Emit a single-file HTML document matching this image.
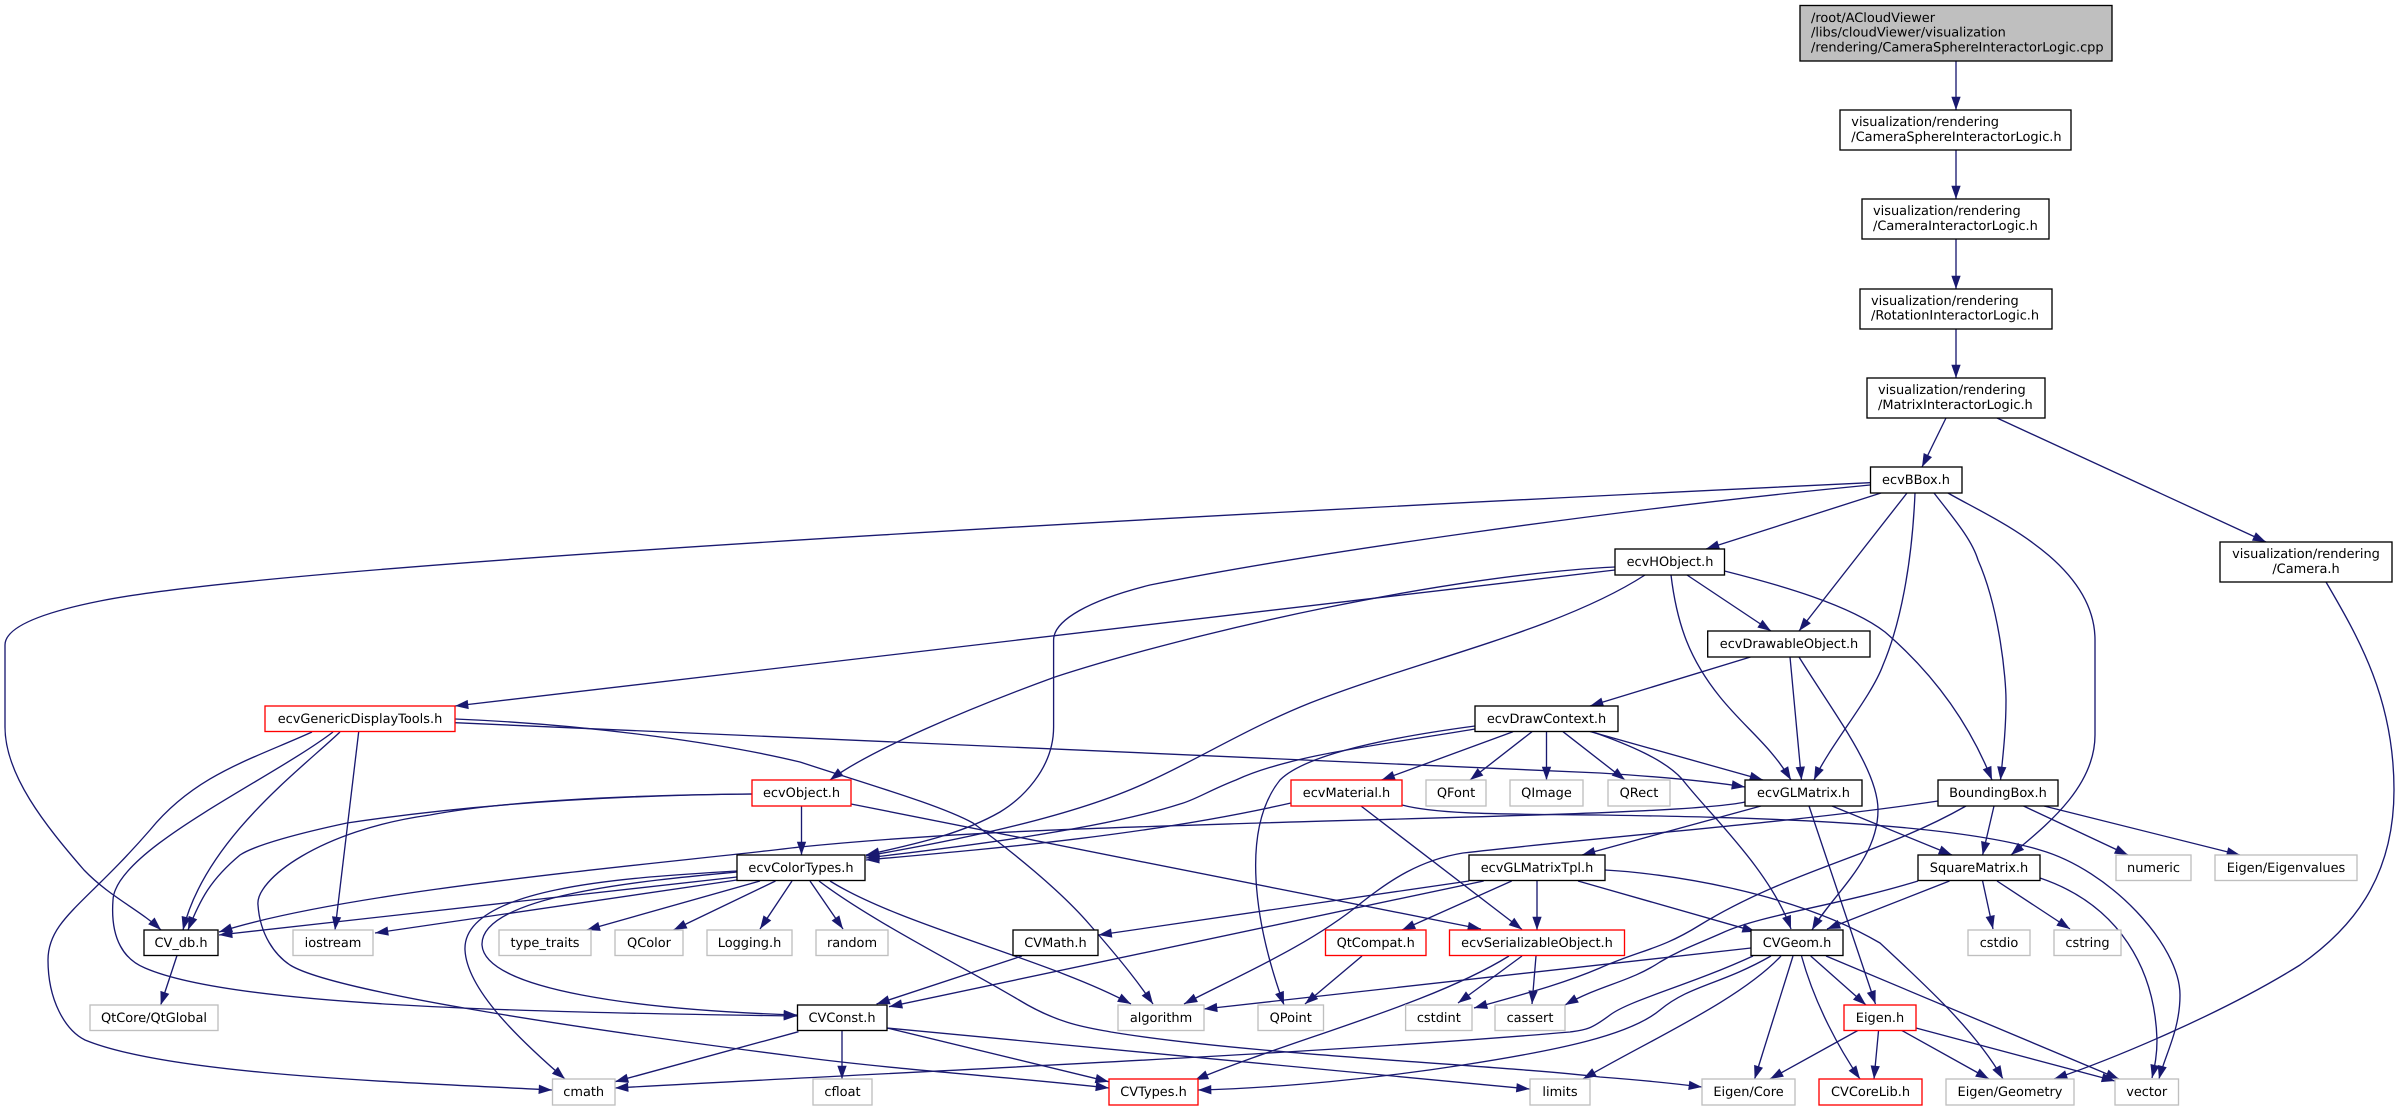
<!DOCTYPE html>
<html><head><meta charset="utf-8"><title>Include dependency graph</title>
<style>
html,body{margin:0;padding:0;background:#fff}
svg{display:block}
text{font-family:"DejaVu Sans",sans-serif;font-size:12.93px;fill:#000;text-rendering:geometricPrecision}
.m text,g.m{text-anchor:middle}
</style></head><body>
<svg width="2396" height="1111" viewBox="0 0 2396 1111" xmlns="http://www.w3.org/2000/svg">
<defs><marker id="a" markerUnits="userSpaceOnUse" markerWidth="14" markerHeight="10" refX="13.3" refY="4.65" orient="auto" overflow="visible"><path d="M0,0L13.3,4.65L0,9.3Z" fill="#191970" stroke="none"/></marker></defs>
<g fill="none" stroke="#191970" stroke-width="1.33" marker-end="url(#a)">
<path d="M1956,61V110"/><path d="M1956,150V199"/><path d="M1956,239V289"/><path d="M1956,329V378"/>
<path d="M1946,418L1922,467"/><path d="M1997,418L2266,542"/>
<path d="M1881,493L1706,549"/><path d="M1907,493L1799,631"/>
<path d="M1915,493C1912,565 1900,625 1883,665C1871,698 1830,745 1814,780"/>
<path d="M1934,493C1955,520 1972,540 1978,560C2000,610 2006,680 2006,700C2006,730 2003,755 2000.5,780"/>
<path d="M1948,493C1985,515 2095,560 2095,640L2095,735C2095,790 2040,830 2011,855"/>
<path d="M1870,482.7C1400,505 300,560 100,601C30,615 5,630 5,645L5,727C5,775 45,825 84,870C110,897 140,910 161,930"/>
<path d="M1870,485C1600,511 1300,555 1150,585C1090,600 1053.6,620 1053.6,640L1053.6,727C1053.6,770 1020,800 1000,812C960,835 910,845 866,855"/>
<path d="M1687,575L1771,631"/>
<path d="M1671,575C1677,625 1690,660 1720,697C1745,728 1770,745 1791,780"/>
<path d="M1724.5,571C1780,585 1850,605 1885,632C1935,675 1970,725 1992,780"/>
<path d="M1645,575C1560,630 1420,660 1310,703C1250,727 1200,758 1152,780C1080,815 960,840 866,856"/>
<path d="M1615,570L455,706"/>
<path d="M1615,567C1450,575 1200,630 1055,677C970,708 870,750 830,780"/>
<path d="M1750.5,657L1590,706"/><path d="M1790,657L1801.5,780"/>
<path d="M1799,657C1835,715 1878,770 1878,810C1878,860 1832,895 1812,930"/>
<path d="M1590,731.5L1763,780"/>
<path d="M1590,731C1630,745 1665,760 1682,779C1710,815 1770,870 1791,929"/>
<path d="M1563,731.7L1625,780"/><path d="M1546.5,731.7V780"/><path d="M1532,731.7L1470,780"/><path d="M1513,731.7L1381.6,780"/>
<path d="M1475,726C1385,738 1305,755 1280,780C1240,830 1255,925 1284,1005"/>
<path d="M1475,729C1380,745 1290,755 1236,780C1210,790 1195,800 1180,804C1100,830 950,848 866,858"/>
<path d="M455,722.7L1600,773C1680,778 1720,783 1745,787"/>
<path d="M1291,803C1150,835 1000,848 866,860"/>
<path d="M1361,806L1522,929.5"/>
<path d="M1402,805C1440,815 1510,814 1600,815C1720,817 1940,820 2040,850C2110,870 2180,945 2180,995C2180,1030 2165,1055 2159,1079"/>
<path d="M1745,802C1700,812 1500,816 1259,823C1100,828 950,832 800,847C650,865 350,890 219,932"/>
<path d="M1761,806L1582,855"/><path d="M1809,806L1875.5,1004"/><path d="M1832,806L1952,855"/>
<path d="M1938,801C1800,822 1620,835 1463,853C1420,860 1390,880 1361,903C1310,945 1240,975 1184,1004"/>
<path d="M1966,806C1880,855 1790,870 1700,925C1660,950 1640,950 1600,968C1560,985 1520,995 1474,1008"/>
<path d="M1918,881C1840,905 1760,915 1722,933C1695,945 1680,950 1660,962C1630,982 1600,985 1565,1005"/>
<path d="M1994,806L1982.6,855"/><path d="M2023.5,806L2128,855"/><path d="M2044,806L2240,855"/>
<path d="M1949.5,881L1827,929"/><path d="M1982.6,881L1993,929"/><path d="M1997,881L2070,929"/>
<path d="M2040,878C2120,905 2155,970 2157,1040C2157,1055 2155,1065 2152,1078"/>
<path d="M2326,582C2360,640 2394,700 2394,790C2394,880 2350,930 2300,965C2220,1015 2110,1060 2054,1079"/>
<path d="M455,719C600,725 730,745 800,762C870,785 940,805 973,823C1010,850 1060,890 1090,925C1125,965 1140,985 1153,1004"/>
<path d="M358.7,731.7L335,930"/>
<path d="M340,732C300,770 205,840 183,930"/>
<path d="M333,732C270,780 115,850 113,900C110,940 125,960 145,968C230,1005 500,1012 797,1016"/>
<path d="M312,732C250,760 195,775 150,830C85,905 48,920 48,960C48,1000 65,1030 85,1040C170,1075 400,1082 552,1090"/>
<path d="M752,794C650,795 500,800 347,823C300,833 255,845 240,855C210,880 200,900 188,930"/>
<path d="M752,794C640,795 510,800 430,815C320,830 255,880 258,905C260,935 275,955 290,965C330,990 550,1025 800,1057C900,1070 1010,1077 1109,1088"/>
<path d="M801.5,806V855"/><path d="M851,804L1481,929"/>
<path d="M737,877L219,935"/><path d="M737,880L375,933"/>
<path d="M737,872C650,880 480,895 482,945C485,990 640,1010 797,1015"/>
<path d="M737,871C640,877 462,885 465,950C467,990 520,1040 565,1079"/>
<path d="M760,881L586.7,930"/><path d="M775.5,881L673.5,930"/><path d="M792,881L760,929"/><path d="M810,881L843,929"/>
<path d="M830,881C900,925 1050,960 1131,1004"/>
<path d="M819,881C870,920 960,965 1019,1000C1060,1025 1090,1028 1111,1032C1250,1055 1500,1065 1600,1077C1640,1080 1670,1083 1702,1087"/>
<path d="M177,955.5L160.7,1005"/>
<path d="M887,1028L1529.6,1089"/>
<path d="M1781,956C1740,1000 1650,1040 1583,1079"/>
<path d="M887,1028L1108.7,1081.7"/><path d="M842,1030V1079"/><path d="M798.5,1031.7L615,1081.7"/><path d="M1022,956L876.5,1004"/>
<path d="M1771,956C1720,985 1690,985 1660,1010C1630,1035 1560,1050 1463,1065C1380,1078 1280,1088 1198,1090"/>
<path d="M1753,956C1690,985 1630,1000 1610,1015C1590,1030 1585,1030 1570,1032C1300,1055 900,1072 615,1088"/>
<path d="M1751,948L1204,1009"/><path d="M1793,956L1754.6,1079"/>
<path d="M1801.5,956C1815,1005 1840,1050 1860,1079"/>
<path d="M1810.7,956L1866,1005"/><path d="M1826,956L2119,1079"/>
<path d="M1858.7,1030L1770,1079"/><path d="M1878.6,1030L1874,1079"/><path d="M1901,1030L1989,1079"/><path d="M1916,1028L2115,1081"/>
<path d="M1469,881L1098.5,935"/><path d="M1483.7,881L889,1006.7"/><path d="M1511.7,881L1402,930"/><path d="M1537,881V930"/><path d="M1578,881L1755.6,931.7"/>
<path d="M1605,870C1660,873 1790,890 1880,943C1925,985 1975,1030 2003,1079"/>
<path d="M1362,956L1305,1004"/>
<path d="M1509,956C1430,1005 1290,1040 1195,1080"/>
<path d="M1522,956L1458,1003"/><path d="M1536,956L1532,1004"/>
</g>
<g stroke-width="1.33" fill="#fff" stroke="#000">
<rect x="1800" y="5.5" width="312" height="55.5" fill="#bfbfbf"/>
<rect x="1840" y="110" width="231" height="40"/><rect x="1862" y="199" width="187" height="40"/>
<rect x="1860" y="289" width="192" height="40"/><rect x="1867" y="378" width="178" height="40"/>
<rect x="1870.5" y="467" width="91.5" height="26"/><rect x="1615" y="549" width="109.5" height="26"/>
<rect x="1707.7" y="631" width="162.3" height="26"/><rect x="2220" y="542" width="172" height="40"/>
<rect x="1475" y="706" width="143" height="25.5"/>
<rect x="1745" y="780" width="117" height="26"/><rect x="1938" y="780" width="120" height="26"/>
<rect x="737" y="855" width="128" height="25.5"/><rect x="1469" y="855" width="136" height="25.5"/><rect x="1918" y="855" width="122" height="25.5"/>
<rect x="144" y="930" width="74" height="25.5"/><rect x="1013" y="930" width="85" height="25.5"/><rect x="1751" y="930" width="92" height="25.5"/>
<rect x="797.5" y="1005" width="89.5" height="25.5"/>
</g>
<g stroke-width="1.33" fill="#fff" stroke="#f00">
<rect x="265" y="706" width="190" height="25.5"/><rect x="752" y="780" width="99" height="26"/><rect x="1291" y="780" width="111" height="26"/>
<rect x="1325.5" y="930" width="100.5" height="25.5"/><rect x="1449.5" y="930" width="175" height="25.5"/>
<rect x="1844" y="1005" width="72" height="25.5"/><rect x="1109" y="1079" width="89" height="26"/><rect x="1819" y="1079" width="103" height="26"/>
</g>
<g stroke-width="1.33" fill="#fff" stroke="#bfbfbf">
<rect x="1426" y="780" width="60" height="26"/><rect x="1510" y="780" width="73" height="26"/><rect x="1608" y="780" width="62" height="26"/>
<rect x="2116" y="855" width="75" height="25.5"/><rect x="2215" y="855" width="142" height="25.5"/>
<rect x="293" y="930" width="80" height="25.5"/><rect x="499" y="930" width="92" height="25.5"/><rect x="615" y="930" width="68" height="25.5"/><rect x="707" y="930" width="85" height="25.5"/><rect x="816" y="930" width="72" height="25.5"/>
<rect x="1968" y="930" width="62" height="25.5"/><rect x="2054" y="930" width="67" height="25.5"/>
<rect x="90" y="1005" width="128" height="25.5"/><rect x="1118" y="1005" width="86" height="25.5"/><rect x="1258" y="1005" width="65.5" height="25.5"/><rect x="1405.6" y="1005" width="66.4" height="25.5"/><rect x="1495" y="1005" width="70" height="25.5"/>
<rect x="552.5" y="1079" width="62.5" height="26"/><rect x="813" y="1079" width="59" height="26"/><rect x="1530" y="1079" width="60" height="26"/><rect x="1702" y="1079" width="93" height="26"/><rect x="1946" y="1079" width="128" height="26"/><rect x="2115" y="1079" width="63.5" height="26"/>
</g>
<text x="1811" y="22">/root/ACloudViewer</text>
<text x="1811" y="36.7">/libs/cloudViewer/visualization</text>
<text x="1811" y="51.3">/rendering/CameraSphereInteractorLogic.cpp</text>
<text x="1851.3" y="126">visualization/rendering</text><text x="1851.3" y="141">/CameraSphereInteractorLogic.h</text>
<text x="1873" y="215">visualization/rendering</text><text x="1873" y="230">/CameraInteractorLogic.h</text>
<text x="1871" y="305">visualization/rendering</text><text x="1871" y="319.5">/RotationInteractorLogic.h</text>
<text x="1878" y="394">visualization/rendering</text><text x="1878" y="409">/MatrixInteractorLogic.h</text>
<g class="m">
<text x="2306" y="558">visualization/rendering</text><text x="2306" y="573">/Camera.h</text>
<text x="1916" y="484">ecvBBox.h</text><text x="1670" y="566">ecvHObject.h</text><text x="1789" y="648">ecvDrawableObject.h</text>
<text x="1546.5" y="723">ecvDrawContext.h</text><text x="360" y="723">ecvGenericDisplayTools.h</text>
<text x="801.5" y="797">ecvObject.h</text><text x="1346.5" y="797">ecvMaterial.h</text><text x="1456" y="797">QFont</text><text x="1546.5" y="797">QImage</text><text x="1639" y="797">QRect</text><text x="1803.5" y="797">ecvGLMatrix.h</text><text x="1998" y="797">BoundingBox.h</text>
<text x="801" y="872">ecvColorTypes.h</text><text x="1537" y="872">ecvGLMatrixTpl.h</text><text x="1979" y="872">SquareMatrix.h</text><text x="2153.5" y="872">numeric</text><text x="2286" y="872">Eigen/Eigenvalues</text>
<text x="181" y="947">CV_db.h</text><text x="333" y="947">iostream</text><text x="545" y="947">type_traits</text><text x="649" y="947">QColor</text><text x="749.5" y="947">Logging.h</text><text x="852" y="947">random</text><text x="1055.5" y="947">CVMath.h</text><text x="1375.7" y="947">QtCompat.h</text><text x="1537" y="947">ecvSerializableObject.h</text><text x="1797" y="947">CVGeom.h</text><text x="1999" y="947">cstdio</text><text x="2087.5" y="947">cstring</text>
<text x="154" y="1022">QtCore/QtGlobal</text><text x="842" y="1022">CVConst.h</text><text x="1161" y="1022">algorithm</text><text x="1290.7" y="1022">QPoint</text><text x="1438.8" y="1022">cstdint</text><text x="1530" y="1022">cassert</text><text x="1880" y="1022">Eigen.h</text>
<text x="583.7" y="1096">cmath</text><text x="842.5" y="1096">cfloat</text><text x="1153.5" y="1096">CVTypes.h</text><text x="1560" y="1096">limits</text><text x="1748.5" y="1096">Eigen/Core</text><text x="1870.5" y="1096">CVCoreLib.h</text><text x="2010" y="1096">Eigen/Geometry</text><text x="2146.7" y="1096">vector</text>
</g>
</svg>
</body></html>
